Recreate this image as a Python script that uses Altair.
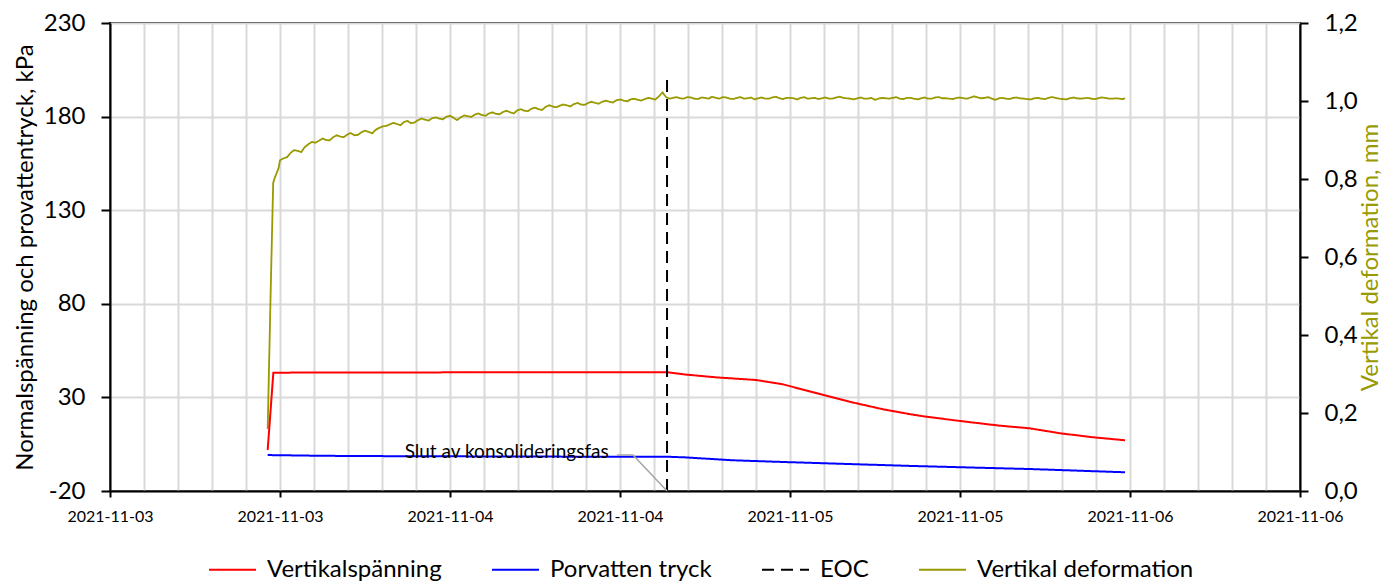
import json
import altair as alt
import pandas as pd

# ---- axis / categories (x = hours after 2021-11-03 00:00) ----
tick_labels = ["2021-11-03", "2021-11-03", "2021-11-04", "2021-11-04",
               "2021-11-05", "2021-11-05", "2021-11-06", "2021-11-06"]
x_grid_hours = [0, 2.4, 4.8, 7.2, 9.6, 12, 14.4, 16.8, 19.2, 21.6, 24, 26.4, 28.8,
                31.2, 33.6, 36, 38.4, 40.8, 43.2, 45.6, 48, 50.4, 52.8, 55.2, 57.6,
                60, 62.4, 64.8, 67.2, 69.6, 72, 74.4, 76.8, 79.2, 81.6, 84]
y_left_ticks = [-20, 30, 80, 130, 180, 230]
y_right_ticks = [0, 0.2, 0.4, 0.6, 0.8, 1.0, 1.2]

series_names = ["Vertikalspänning", "Porvatten tryck", "EOC", "Vertikal deformation"]
series_colors = ["#ff0000", "#0000ff", "#000000", "#999900"]
series_dash = [[1, 0], [1, 0], [12, 7], [1, 0]]

# ---- Vertikalspänning (kPa) ----
vs_hours = [11.13, 11.53, 15, 20, 25, 30, 35, 39.3, 40.5, 42.8, 45.6, 47.5, 49.9,
            52.2, 54.6, 56.5, 57.6, 60.0, 62.8, 64.9, 67.1, 69.4, 71.65]
vs_kpa = [1.9, 43.2, 43.3, 43.3, 43.4, 43.4, 43.5, 43.5, 42.3, 40.7, 39.3, 37.0, 32.2,
          27.7, 23.6, 21.0, 19.7, 17.4, 14.9, 13.5, 10.8, 8.7, 7.1]

# ---- Porvatten tryck (kPa) ----
pw_hours = [11.13, 15, 20, 25, 30, 35, 39.3, 40.5, 44.0, 47.5, 52.2, 56.5, 60.0, 65.1, 71.65]
pw_kpa = [-0.8, -1.2, -1.4, -1.5, -1.6, -1.7, -1.7, -2.0, -3.6, -4.5, -5.6, -6.6, -7.3, -8.3, -10.0]

# ---- EOC ----
eoc_hours = [39.32, 39.32]
eoc_kpa = [-20, 200]

# ---- Vertikal deformation (mm) ----
def_hours_first = [11.13, 11.36, 11.52, 11.6, 11.9]
def_mm_first = [0.159, 0.541, 0.79, 0.80, 0.828]
# samples at 12.0, 12.5, 13.0 ... (every 0.5 h)
def_a_start = 12.0
def_a_mm = [
    0.848, 0.856, 0.874, 0.869, 0.889, 0.893, 0.904, 0.899, 0.912, 0.907,
    0.918, 0.913, 0.924, 0.917, 0.931, 0.936, 0.944, 0.938, 0.949, 0.945,
    0.955, 0.950, 0.958, 0.953, 0.962, 0.951, 0.963, 0.959, 0.968, 0.962,
    0.971, 0.966, 0.975, 0.968, 0.979, 0.974, 0.983, 0.977, 0.989, 0.984,
    0.991, 0.986, 0.995, 0.990, 0.998, 0.993, 1.001, 0.996, 1.004, 0.999,
    1.006, 1.001, 1.008, 1.004, 1.022, 1.006, 1.010, 1.006, 1.009, 1.005,
    1.008, 1.011, 1.006, 1.009, 1.005, 1.010, 1.007, 1.004, 1.009, 1.006,
    1.011, 1.005, 1.008, 1.004, 1.010, 1.007, 1.005, 1.009, 1.006, 1.011,
    1.007, 1.004, 1.009, 1.006, 1.003, 1.008, 1.006, 1.010, 1.005, 1.008,
    1.004, 1.009, 1.006, 1.010, 1.007, 1.005, 1.009, 1.006, 1.012, 1.007,
    1.010, 1.003, 1.008, 1.005, 1.009, 1.006, 1.004, 1.008, 1.005, 1.010,
    1.006, 1.004, 1.009, 1.006, 1.008, 1.005, 1.009, 1.006, 1.007, 1.005,
]
# samples at 12.25, 12.75, 13.25 ... (every 0.5 h)
def_b_start = 12.25
def_b_mm = [
    0.853, 0.867, 0.872, 0.882, 0.895, 0.898, 0.900, 0.907, 0.909, 0.914,
    0.912, 0.920, 0.921, 0.926, 0.935, 0.940, 0.941, 0.946, 0.943, 0.951,
    0.952, 0.956, 0.955, 0.960, 0.957, 0.958, 0.961, 0.965, 0.964, 0.968,
    0.967, 0.972, 0.971, 0.976, 0.975, 0.980, 0.979, 0.985, 0.986, 0.988,
    0.989, 0.992, 0.991, 0.995, 0.995, 0.998, 0.998, 1.002, 1.001, 1.004,
    1.003, 1.005, 1.006, 1.012, 1.010, 1.008, 1.007, 1.010, 1.006, 1.009,
    1.006, 1.008, 1.010, 1.006, 1.008, 1.006, 1.009, 1.007, 1.006, 1.009,
    1.007, 1.008, 1.007, 1.008, 1.006, 1.008, 1.007, 1.006, 1.009, 1.008,
    1.006, 1.007, 1.006, 1.008, 1.006, 1.007, 1.008, 1.006, 1.008, 1.006,
    1.007, 1.006, 1.009, 1.007, 1.006, 1.008, 1.007, 1.009, 1.009, 1.008,
    1.006, 1.007, 1.006, 1.008, 1.007, 1.005, 1.007, 1.006, 1.008, 1.008,
    1.005, 1.007, 1.007, 1.007, 1.006, 1.007, 1.008, 1.006, 1.006,
]
def_sample_step = 0.5
def_hour_last = 71.65
def_mm_last = 1.007

# ---- annotation ----
annot_text = ["Slut av konsolideringsfas"]
annot_hour = [35.2]
annot_kpa = [0.8]
leader_hours = [35.79, 36.92, 39.32]
leader_kpa = [-0.8, -0.8, -20]

# ---- tables ----
left_df = pd.concat([
    pd.DataFrame({"h": vs_hours, "v": vs_kpa, "series": series_names[0]}),
    pd.DataFrame({"h": pw_hours, "v": pw_kpa, "series": series_names[1]}),
    pd.DataFrame({"h": eoc_hours, "v": eoc_kpa, "series": series_names[2]}),
], ignore_index=True)

def_hours = (def_hours_first
             + [def_a_start + i * def_sample_step for i in range(len(def_a_mm))]
             + [def_b_start + i * def_sample_step for i in range(len(def_b_mm))]
             + [def_hour_last])
def_vals = def_mm_first + def_a_mm + def_b_mm + [def_mm_last]
def_df = pd.DataFrame({"h": def_hours, "v": def_vals, "series": series_names[3]})
def_df = def_df[def_df["h"] <= def_hour_last].sort_values("h").reset_index(drop=True)

annot_df = pd.DataFrame({"h": annot_hour, "v": annot_kpa, "t": annot_text})
leader_df = pd.DataFrame({"h": leader_hours, "v": leader_kpa, "i": list(range(len(leader_hours)))})

FONT = "Lato"
OLIVE = "#999900"
GRID = "#d9d9d9"
BIG = 24

is_major = "abs(datum.value/12 - round(datum.value/12)) < 0.01"
x_axis = alt.Axis(
    values=x_grid_hours,
    labelExpr=f"{is_major} ? {json.dumps(tick_labels)}[round(datum.value/12)] : ''",
    tickOpacity={"condition": {"test": is_major, "value": 1}, "value": 0},
    grid=True, gridColor=GRID, gridWidth=2,
    tickSize=6, tickWidth=2, tickColor="black",
    labelPadding=11, labelFontSize=16, labelFont=FONT, labelColor="black",
    labelFlush=False, labelOverlap=False,
    domainColor="black", domainWidth=2, title=None,
)
y_left_axis = alt.Axis(
    values=y_left_ticks, orient="left",
    labelExpr="datum.value < 0 ? '-' + abs(datum.value) : '' + datum.value",
    title="Normalspänning och provattentryck, kPa",
    grid=True, gridColor=GRID, gridWidth=2,
    tickSize=9, tickWidth=2, tickColor="black",
    labelPadding=16, labelFontSize=BIG, labelFont=FONT, labelColor="black",
    titleFont=FONT, titleFontSize=BIG, titleFontWeight="normal", titleColor="black",
    titlePadding=6, domainColor="black", domainWidth=2,
)
y_right_axis = alt.Axis(
    values=y_right_ticks, orient="right",
    labelExpr="replace(format(datum.value, '.1f'), '.', ',')",
    title="Vertikal deformation, mm",
    titleAngle=270, titleBaseline="top",
    grid=False,
    tickSize=8, tickWidth=2, tickColor="black",
    labelPadding=16, labelFontSize=BIG, labelFont=FONT, labelColor="black",
    titleFont=FONT, titleFontSize=BIG, titleFontWeight="normal", titleColor=OLIVE,
    titlePadding=1, domainColor="black", domainWidth=2,
)

legend = alt.Legend(
    orient="none", legendX=98, legendY=522, direction="horizontal", title=None,
    symbolType="stroke", symbolSize=2209, symbolStrokeWidth=2,
    labelFontSize=BIG, labelFont=FONT, labelColor="black", labelLimit=400,
    columnPadding=46, labelOffset=10,
)

X = alt.X("h:Q", scale=alt.Scale(domain=[0, 84], nice=False, zero=False), axis=x_axis)
YL = alt.Y("v:Q", scale=alt.Scale(domain=[-20, 230], nice=False, zero=False), axis=y_left_axis)
YR = alt.Y("v:Q", scale=alt.Scale(domain=[0, 1.2], nice=False, zero=False), axis=y_right_axis)
C = alt.Color("series:N", scale=alt.Scale(domain=series_names, range=series_colors), legend=legend)
D = alt.StrokeDash("series:N", scale=alt.Scale(domain=series_names, range=series_dash), legend=legend)

lines_left = alt.Chart(left_df).mark_line(strokeWidth=2).encode(x=X, y=YL, color=C, strokeDash=D)
annot = alt.Chart(annot_df).mark_text(
    align="right", baseline="middle", fontSize=19, font=FONT, color="black"
).encode(x=X, y=YL, text="t:N")
leader = alt.Chart(leader_df).mark_line(color="#a6a6a6", strokeWidth=1.5).encode(
    x=X, y=YL, order="i:Q")

left_group = alt.layer(lines_left, leader, annot)
olive = alt.Chart(def_df).mark_line(strokeWidth=1.8).encode(x=X, y=YR, color=C, strokeDash=D)

chart = alt.layer(olive, left_group).resolve_scale(y="independent").properties(
    width=1190, height=468,
    autosize=alt.AutoSizeParams(type="none"),
    padding={"left": 102, "top": 15, "right": 85, "bottom": 90},
).configure_view(stroke="black", strokeWidth=2)

chart.save("out.html", embed_options={"renderer": "svg", "actions": False})
